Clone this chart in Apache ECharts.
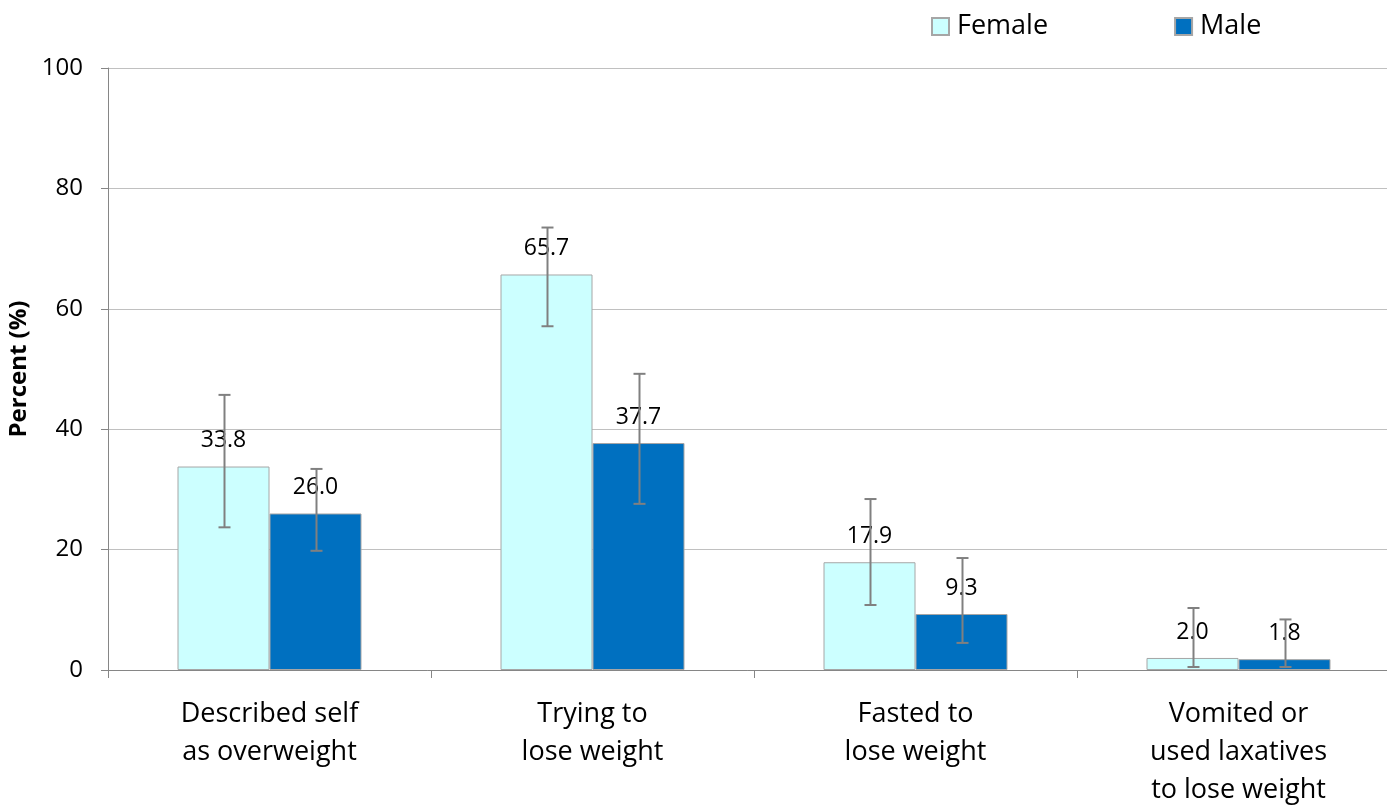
<!DOCTYPE html>
<html>
<head>
<meta charset="utf-8">
<script src="https://cdn.jsdelivr.net/npm/echarts@6/dist/echarts.min.js"></script>
<style>html,body{margin:0;padding:0;background:#fff}#c{width:1387px;height:808px}</style>
</head>
<body>
<div id="c"></div>
<script>
const categories = ['Described self\nas overweight', 'Trying to\nlose weight', 'Fasted to\nlose weight', 'Vomited or\nused laxatives\nto lose weight'];
const femaleValues = [33.8, 65.7, 17.9, 2.0];
const maleValues = [26.0, 37.7, 9.3, 1.8];
const femaleLow = [23.7, 57.1, 10.8, 0.5];
const femaleHigh = [45.7, 73.5, 28.4, 10.3];
const maleLow = [19.8, 27.6, 4.5, 0.5];
const maleHigh = [33.4, 49.2, 18.6, 8.4];
const yTicks = [0, 20, 40, 60, 80, 100];

const FONT = 'Open Sans';
const BAR_W = 92;

function errorSeries(name, low, high, side) {
  return {
    type: 'custom',
    name: name + ' CI',
    z: 10,
    silent: true,
    data: categories.map((c, i) => [i, low[i], high[i]]),
    renderItem: function (params, api) {
      const i = api.value(0);
      const lo = api.coord([i, api.value(1)]);
      const hi = api.coord([i, api.value(2)]);
      const x = lo[0] + side * BAR_W / 2 + 1;
      const cap = 6;
      const st = { stroke: '#808080', lineWidth: 2 };
      return {
        type: 'group',
        children: [
          { type: 'line', shape: { x1: x, y1: lo[1], x2: x, y2: hi[1] }, style: st },
          { type: 'line', shape: { x1: x - cap, y1: lo[1], x2: x + cap, y2: lo[1] }, style: st },
          { type: 'line', shape: { x1: x - cap, y1: hi[1], x2: x + cap, y2: hi[1] }, style: st }
        ]
      };
    }
  };
}

const chart = echarts.init(document.getElementById('c'));
chart.setOption({
  animation: false,
  textStyle: { fontFamily: FONT },
  legend: {
    data: ['Female', 'Male'],
    left: 926,
    top: 8,
    icon: 'rect',
    itemWidth: 17,
    itemHeight: 17,
    itemGap: 126,
    textStyle: { fontFamily: FONT, fontSize: 27, color: '#000', padding: [0, 0, 0, 3] }
  },
  grid: { left: 108, top: 68, width: 1292, height: 602, outerBoundsMode: 'none', containLabel: false },
  xAxis: {
    type: 'category',
    data: categories,
    axisLine: { lineStyle: { color: '#868686', width: 1 } },
    axisTick: { show: true, length: 8, lineStyle: { color: '#868686' } },
    axisLabel: { fontFamily: FONT, fontSize: 27, color: '#000', lineHeight: 38, margin: 25, interval: 0 }
  },
  yAxis: {
    type: 'value',
    min: 0,
    max: 100,
    interval: 20,
    name: 'Percent (%)',
    nameLocation: 'middle',
    nameGap: 73,
    nameTextStyle: { fontFamily: FONT, fontSize: 24, fontWeight: 'bold', color: '#000' },
    axisLine: { show: true, lineStyle: { color: '#868686', width: 1 } },
    axisTick: { show: true, length: 7, lineStyle: { color: '#868686' } },
    axisLabel: { fontFamily: FONT, fontSize: 24, color: '#000', margin: 25, formatter: v => yTicks.includes(v) ? String(v) : '' },
    splitLine: { lineStyle: { color: '#c0c0c0', width: 1 } }
  },
  series: [
    {
      name: 'Female', type: 'bar', data: femaleValues, barWidth: BAR_W, barGap: '0%',
      itemStyle: { color: '#CCFFFF', borderColor: '#a6a6a6', borderWidth: 1 },
      label: { show: true, position: 'top', distance: 14, fontFamily: FONT, fontSize: 23, color: '#000', lineHeight: 24, formatter: p => p.value.toFixed(1) }
    },
    {
      name: 'Male', type: 'bar', data: maleValues, barWidth: BAR_W, barGap: '0%',
      itemStyle: { color: '#0070C0', borderColor: '#a6a6a6', borderWidth: 1 },
      label: { show: true, position: 'top', distance: 14, fontFamily: FONT, fontSize: 23, color: '#000', lineHeight: 24, formatter: p => p.value.toFixed(1) }
    },
    errorSeries('Female', femaleLow, femaleHigh, -1),
    errorSeries('Male', maleLow, maleHigh, 1)
  ]
});
</script>
</body>
</html>
